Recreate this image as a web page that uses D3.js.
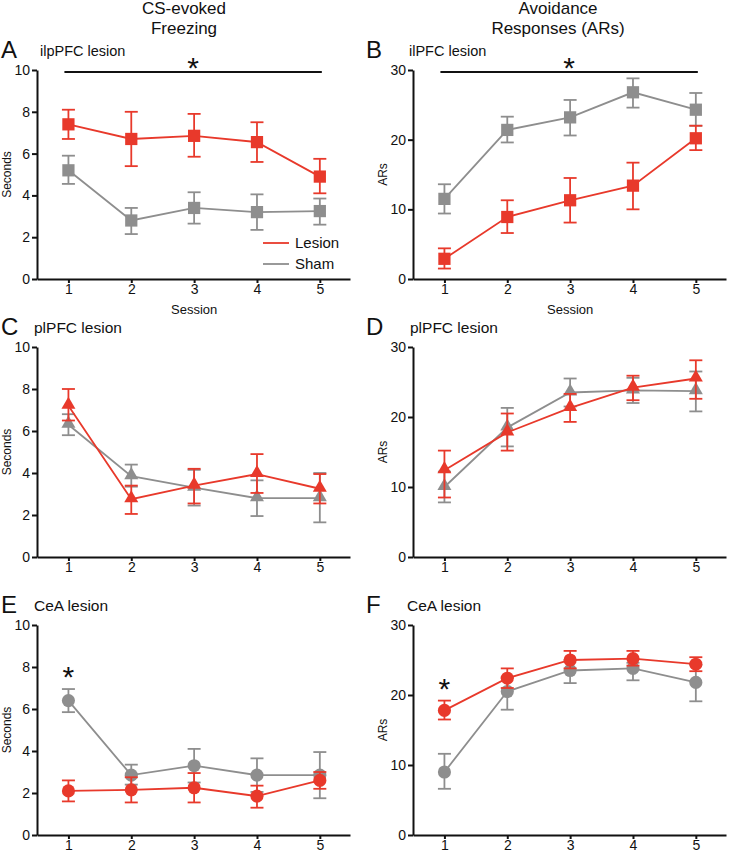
<!DOCTYPE html>
<html>
<head>
<meta charset="utf-8">
<script src="https://cdn.jsdelivr.net/npm/d3@7"></script>
<style>
  body { margin: 0; background: #fff; }
  svg text { font-family: "Liberation Sans", Arial, sans-serif; fill: #111; }
  .axis path, .axis line { stroke: #111; stroke-width: 2; }
  .axis text { font-size: 14px; }
</style>
</head>
<body>
<svg id="fig" width="730" height="853"></svg>
<script>
// sessions on the x axis
const sessions = [1, 2, 3, 4, 5];

// mean, upper error, lower error per session
const aLesion = [[7.4, 8.1, 6.7], [6.7, 8.0, 5.4], [6.85, 7.9, 5.85], [6.55, 7.5, 5.6], [4.9, 5.75, 4.1]];
const aSham   = [[5.2, 5.9, 4.55], [2.8, 3.4, 2.15], [3.4, 4.15, 2.65], [3.2, 4.05, 2.35], [3.25, 3.85, 2.6]];

const bLesion = [[2.9, 4.4, 1.5], [8.9, 11.3, 6.6], [11.3, 14.5, 8.1], [13.4, 16.7, 10.0], [20.2, 22.0, 18.5]];
const bSham   = [[11.5, 13.6, 9.4], [21.4, 23.3, 19.6], [23.2, 25.7, 20.6], [26.8, 28.8, 24.6], [24.3, 26.7, 22.0]];

const cLesion = [[7.2, 8.0, 6.5], [2.75, 3.4, 2.05], [3.4, 4.2, 2.55], [3.95, 4.9, 3.05], [3.25, 3.95, 2.55]];
const cSham   = [[6.3, 6.8, 5.8], [3.85, 4.4, 3.35], [3.3, 4.15, 2.45], [2.8, 3.65, 1.95], [2.8, 4.0, 1.65]];

const dLesion = [[12.4, 15.2, 8.5], [17.8, 20.5, 15.2], [21.3, 23.3, 19.3], [24.2, 25.9, 22.4], [25.5, 28.1, 22.6]];
const dSham   = [[10.0, 12.2, 7.8], [18.5, 21.3, 15.8], [23.5, 25.5, 21.5], [23.8, 25.6, 22.0], [23.7, 26.5, 20.8]];

const eLesion = [[2.1, 2.6, 1.6], [2.15, 2.75, 1.55], [2.25, 2.95, 1.55], [1.85, 2.35, 1.3], [2.6, 3.0, 2.2]];
const eSham   = [[6.4, 6.95, 5.85], [2.85, 3.35, 2.4], [3.3, 4.1, 2.5], [2.85, 3.65, 2.05], [2.85, 3.95, 1.75]];

const fLesion = [[17.8, 19.2, 16.5], [22.4, 23.8, 21.0], [25.0, 26.3, 23.8], [25.2, 26.3, 24.2], [24.4, 25.4, 23.4]];
const fSham   = [[9.0, 11.6, 6.6], [20.5, 22.5, 17.9], [23.5, 25.0, 21.7], [23.8, 24.6, 22.1], [21.8, 24.3, 19.1]];

const freezeTicks = [0, 2, 4, 6, 8, 10];
const arTicks = [0, 10, 20, 30];

const RED = "#e8392b";
const GRAY = "#8e8e8e";

const panels = [
  {letter: "A", title: "ilpPFC lesion", titleX: 40, lesion: aLesion, sham: aSham, shape: "square", max: 10, ticks: freezeTicks, ylabel: "Seconds", col: 0, row: 0, bar: true, legend: true, session: true},
  {letter: "B", title: "ilPFC lesion", titleX: 409, lesion: bLesion, sham: bSham, shape: "square", max: 30, ticks: arTicks, ylabel: "ARs", col: 1, row: 0, bar: true, session: true},
  {letter: "C", title: "plPFC lesion", titleX: 34, lesion: cLesion, sham: cSham, shape: "triangle", max: 10, ticks: freezeTicks, ylabel: "Seconds", col: 0, row: 1},
  {letter: "D", title: "plPFC lesion", titleX: 410, lesion: dLesion, sham: dSham, shape: "triangle", max: 30, ticks: arTicks, ylabel: "ARs", col: 1, row: 1},
  {letter: "E", title: "CeA lesion", titleX: 34, lesion: eLesion, sham: eSham, shape: "circle", max: 10, ticks: freezeTicks, ylabel: "Seconds", col: 0, row: 2, star: eSham},
  {letter: "F", title: "CeA lesion", titleX: 407, lesion: fLesion, sham: fSham, shape: "circle", max: 30, ticks: arTicks, ylabel: "ARs", col: 1, row: 2, star: fLesion}
];

const colLeft = [37, 413];
const letterX = [1, 366];
const rowTop = [70, 347, 625];
const rowBottom = [279, 557, 835];
const titleSize = [14.5, 15.5, 15.5];

const svg = d3.select("#fig");

// column headings
const heads = [["CS-evoked", "Freezing"], ["Avoidance", "Responses (ARs)"]];
const headX = [184, 558];
heads.forEach((lines, i) => {
  lines.forEach((t, j) => {
    svg.append("text")
      .attr("x", headX[i]).attr("y", 14 + j * 20)
      .attr("text-anchor", "middle")
      .style("font-size", "17px")
      .text(t);
  });
});

const symbols = {
  square: d3.symbol().type(d3.symbolSquare).size(150),
  triangle: d3.symbol().type(d3.symbolTriangle).size(85),
  circle: d3.symbol().type(d3.symbolCircle).size(135)
};

panels.forEach(p => {
  let left = colLeft[p.col];
  let top = rowTop[p.row];
  let bottom = rowBottom[p.row];

  let x = d3.scaleLinear().domain([0.5, 5.48]).range([left, left + 313]);
  let y = d3.scaleLinear().domain([0, p.max]).range([bottom, top]);

  let g = svg.append("g");

  // panel letter + subtitle
  g.append("text")
    .attr("x", letterX[p.col]).attr("y", top - 12)
    .style("font-size", "24px")
    .text(p.letter);
  g.append("text")
    .attr("x", p.titleX).attr("y", top - 14)
    .style("font-size", titleSize[p.row] + "px")
    .text(p.title);

  // axes
  g.append("g")
    .attr("class", "axis")
    .attr("transform", "translate(0," + bottom + ")")
    .call(d3.axisBottom(x).tickValues(sessions).tickFormat(d3.format("d")).tickSize(4).tickSizeOuter(0).tickPadding(1));
  g.append("g")
    .attr("class", "axis")
    .attr("transform", "translate(" + left + ",0)")
    .call(d3.axisLeft(y).tickValues(p.ticks).tickFormat(d3.format("d")).tickSize(5).tickSizeOuter(0).tickPadding(2));

  g.append("text")
    .attr("transform", "translate(" + (left - 26) + "," + ((top + bottom) / 2) + ") rotate(-90)")
    .attr("text-anchor", "middle")
    .style("font-size", "12px")
    .text(p.ylabel);

  if (p.session) {
    g.append("text")
      .attr("x", x(3)).attr("y", bottom + 35)
      .attr("text-anchor", "middle")
      .style("font-size", "13px")
      .text("Session");
  }

  // significance bar across all sessions
  if (p.bar) {
    g.append("line")
      .attr("x1", x(1) - 4).attr("x2", x(5) + 2)
      .attr("y1", y(p.max) + 2).attr("y2", y(p.max) + 2)
      .attr("stroke", "#111").attr("stroke-width", 2);
    g.append("text")
      .attr("x", x(3) - 1).attr("y", y(p.max) + 8)
      .attr("text-anchor", "middle")
      .style("font-size", "30px")
      .text("*");
  }

  // series: sham first, lesion on top
  [[p.sham, GRAY], [p.lesion, RED]].forEach(([data, color]) => {
    let line = d3.line().x((d, i) => x(sessions[i])).y(d => y(d[0]));
    g.append("path")
      .datum(data)
      .attr("d", line)
      .attr("fill", "none")
      .attr("stroke", color)
      .attr("stroke-width", 1.8);

    let err = g.append("g").selectAll("g")
      .data(data)
      .join("g")
      .attr("stroke", color)
      .attr("stroke-width", 1.8);
    err.append("line")
      .attr("x1", (d, i) => x(sessions[i])).attr("x2", (d, i) => x(sessions[i]))
      .attr("y1", d => y(d[1])).attr("y2", d => y(d[2]));
    err.append("line")
      .attr("x1", (d, i) => x(sessions[i]) - 6.5).attr("x2", (d, i) => x(sessions[i]) + 6.5)
      .attr("y1", d => y(d[1])).attr("y2", d => y(d[1]));
    err.append("line")
      .attr("x1", (d, i) => x(sessions[i]) - 6.5).attr("x2", (d, i) => x(sessions[i]) + 6.5)
      .attr("y1", d => y(d[2])).attr("y2", d => y(d[2]));

    g.append("g").selectAll("path")
      .data(data)
      .join("path")
      .attr("d", symbols[p.shape])
      .attr("transform", (d, i) => "translate(" + x(sessions[i]) + "," + (y(d[0]) + (p.shape == "triangle" ? -1 : 0)) + ")")
      .attr("fill", color);
  });

  // single-session asterisk
  if (p.star) {
    g.append("text")
      .attr("x", x(1)).attr("y", y(p.star[0][1]) - 2)
      .attr("text-anchor", "middle")
      .style("font-size", "30px")
      .text("*");
  }

  if (p.legend) {
    let items = [["Lesion", RED], ["Sham", GRAY]];
    items.forEach((it, i) => {
      let ly = 243 + i * 21;
      g.append("line")
        .attr("x1", 263).attr("x2", 289)
        .attr("y1", ly).attr("y2", ly)
        .attr("stroke", it[1]).attr("stroke-width", 1.8);
      g.append("text")
        .attr("x", 295).attr("y", ly + 5)
        .style("font-size", "15px")
        .text(it[0]);
    });
  }
});
</script>
</body>
</html>
